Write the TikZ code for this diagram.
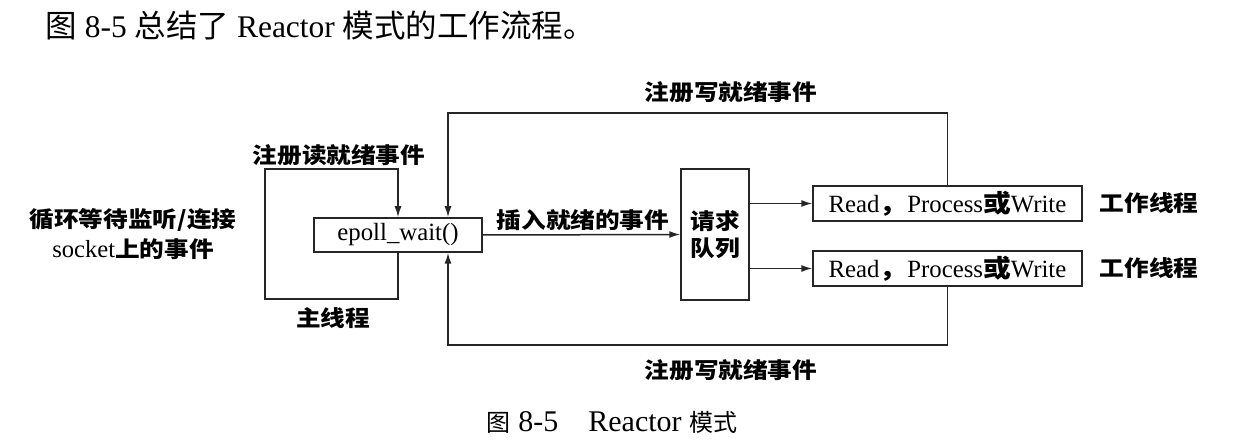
\documentclass[tikz,border=0pt]{standalone}
\usepackage{fontspec}
\setmainfont{Liberation Serif}
\newfontfamily\cjk{Noto Sans CJK SC}
\newfontfamily\cjkb[FakeStretch=1.12]{Noto Sans CJK SC}
\usetikzlibrary{arrows.meta}
\begin{document}
\begin{tikzpicture}[x=0.5pt,y=-0.5pt,
  line/.style={line width=0.75pt, draw=black!85},
  arr/.style={line, -{Latex[length=5.5pt,width=3.5pt]}},
  box/.style={line, fill=white, inner sep=0pt, font=\fontsize{12.4pt}{14pt}\selectfont},
  lbl/.style={inner sep=0pt, font=\cjkb\bfseries\fontsize{11pt}{13pt}\selectfont},
  plain/.style={inner sep=0pt}
]
\useasboundingbox[fill=white] (0,0) rectangle (1240,442);

% title and caption
\node[plain, anchor=west] (title) at (45,26)
  {\fontsize{15.75pt}{18pt}\selectfont{\cjk 图} 8-5 {\cjk 总结了} Reactor {\cjk 模式的工作流程。}};
\node[plain] (caption) at (612,422)
  {\fontsize{15pt}{17pt}\selectfont{\cjk\fontsize{12pt}{14pt}\selectfont 图} 8-5\hspace{15pt}Reactor {\cjk\fontsize{12pt}{14pt}\selectfont 模式}};

% boxes
\node[box, minimum width=84pt, minimum height=17pt] (ep) at (398,235) {epoll\_wait()};
\node[box, minimum width=34pt, minimum height=65.5pt, align=center,
      font=\cjkb\bfseries\fontsize{11pt}{13.5pt}\selectfont] (q) at (715,234.5) {请求\\队列};
\node[box, minimum width=134.5pt, minimum height=17.5pt] (w1) at (947.5,203.5)
  {Read{\cjkb\bfseries ，}Process{\cjkb\bfseries 或}Write};
\node[box, minimum width=134.5pt, minimum height=17.5pt] (w2) at (947.5,268.5)
  {Read{\cjkb\bfseries ，}Process{\cjkb\bfseries 或}Write};

% labels
\node[lbl] (rd) at (339,155) {注册读就绪事件};
\node[lbl] (mt) at (333,318) {主线程};
\node[lbl] (wr1) at (731,92) {注册写就绪事件};
\node[lbl] (wr2) at (731,370) {注册写就绪事件};
\node[lbl] (ins) at (583,220) {插入就绪的事件};
\node[lbl] (wt1) at (1149,203) {工作线程};
\node[lbl] (wt2) at (1149,268) {工作线程};
\node[lbl, align=center, font=\cjkb\bfseries\fontsize{11pt}{15pt}\selectfont] (left) at (133,234)
  {循环等待监听/连接\\{\rmfamily\mdseries\fontsize{12.3pt}{15pt}\selectfont socket}上的事件};

% helper corners
\coordinate (mb) at (265,299);
\coordinate (mtl) at (265,169);
\coordinate (tl) at (448,113);
\coordinate (bl) at (448,345);

% main thread loop
\draw[arr] (ep.south) |- (mb) -- (mtl) -| (ep.north);
% epoll -> queue
\draw[arr] (ep.east) -- (q.west);
% queue -> workers
\draw[arr] (q.east |- w1.west) -- (w1.west);
\draw[arr] (q.east |- w2.west) -- (w2.west);
% register write events
\draw[arr] (w1.north) |- (tl) -- (tl |- ep.north);
\draw[arr] (w2.south) |- (bl) -- (bl |- ep.south);
\end{tikzpicture}
\end{document}
